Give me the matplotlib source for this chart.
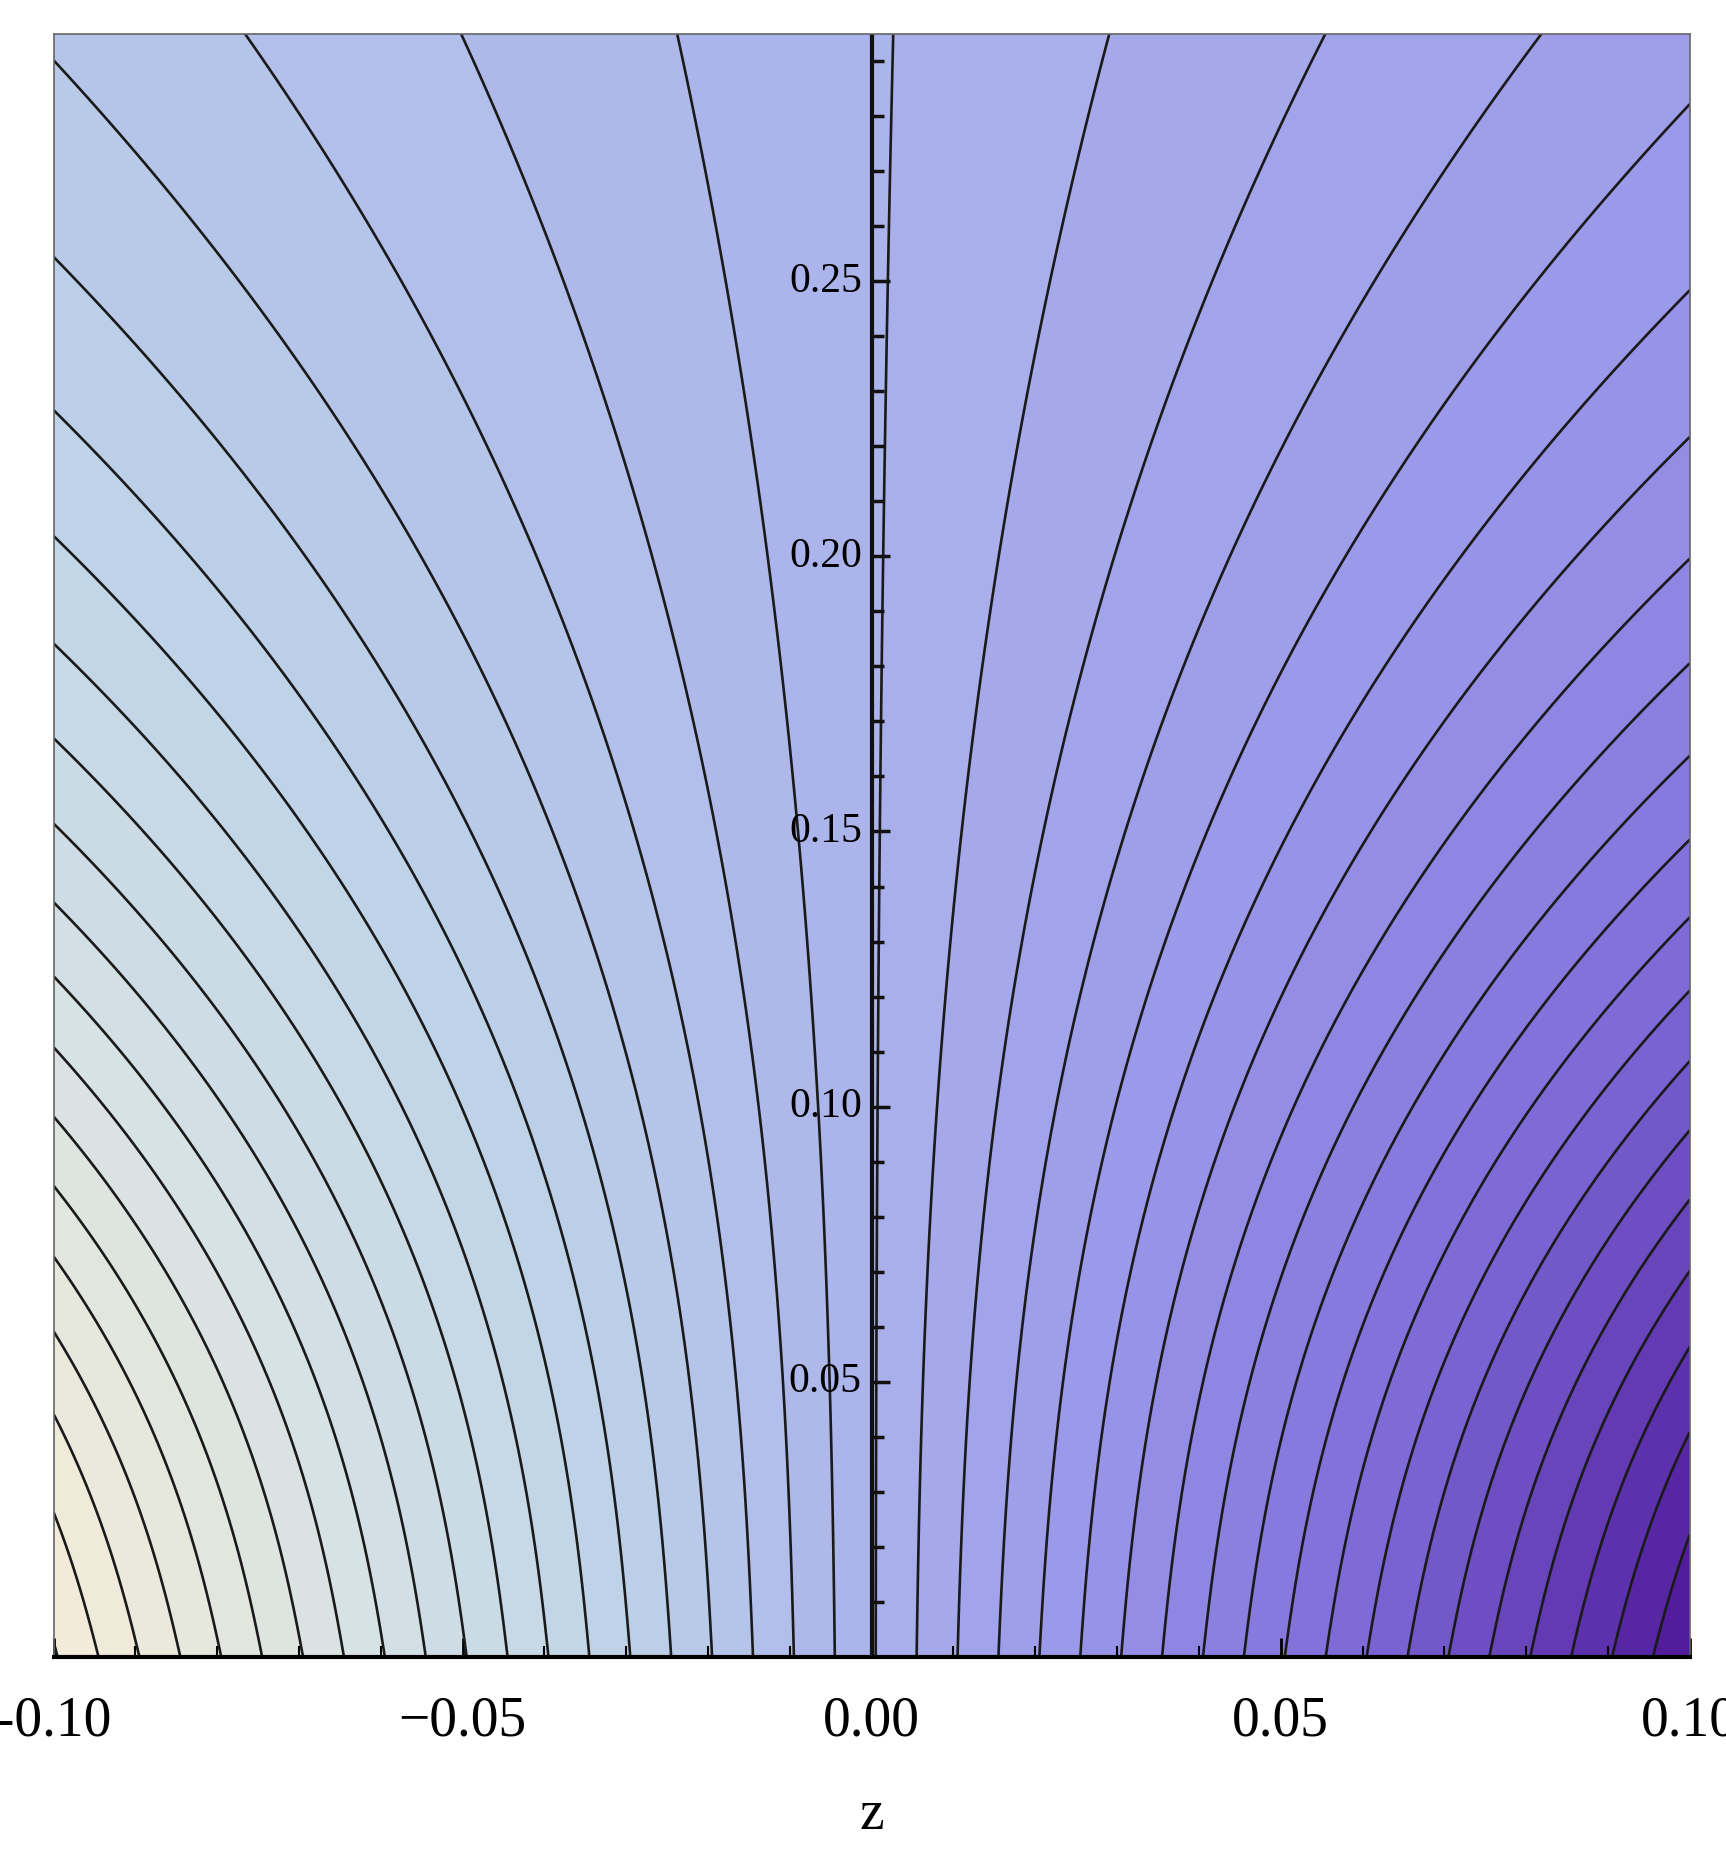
import numpy as np
import matplotlib
matplotlib.use("Agg")
import matplotlib.pyplot as plt
from matplotlib.colors import LinearSegmentedColormap

# data / model parameters
z_range = [-0.1, 0.1]
y_range = [0.0, 0.295]
g_lin = 1.8            # g(y) = 1 + 1.8y + 72 y^2.42 ; f = z / g(y)
g_coef = 72.0
g_power = 2.42
level_start = 0.0005
level_step = 0.005
x_ticks = [-0.10, -0.05, 0.00, 0.05, 0.10]
x_tick_labels = ["-0.10", "\u22120.05", "0.00", "0.05", "0.10"]
y_ticks = [0.05, 0.10, 0.15, 0.20, 0.25]
y_tick_labels = ["0.05", "0.10", "0.15", "0.20", "0.25"]
cmap_nodes = [-0.1, -0.06, -0.03, 0.0, 0.03, 0.06, 0.1]
cmap_colors = [(245, 236, 216), (212, 225, 228), (190, 210, 232), (170, 178, 235),
               (150, 145, 232), (125, 105, 215), (80, 25, 155)]

z = np.linspace(*z_range, 600)
y = np.linspace(*y_range, 600)
Z, Y = np.meshgrid(z, y)
G = 1.0 + g_lin * Y + g_coef * Y**g_power
F = Z / G

levels = level_start + level_step * np.arange(-25, 26)
levels = levels[(levels > F.min() - level_step) & (levels < F.max() + level_step)]

lo, hi = cmap_nodes[0], cmap_nodes[-1]
cmap = LinearSegmentedColormap.from_list(
    "m", [((v - lo) / (hi - lo), tuple(c / 255 for c in col)) for v, col in zip(cmap_nodes, cmap_colors)])

fig = plt.figure(figsize=(17.26, 18.7), dpi=100)
ax = fig.add_axes([0.031, 0.114, 0.948, 0.868])
ax.contourf(Z, Y, F, levels=levels, cmap=cmap, vmin=lo, vmax=hi)
ax.contour(Z, Y, F, levels=levels, colors="#1a1a1a", linewidths=1.9, linestyles="solid")
ax.set_xlim(*z_range)
ax.set_ylim(*y_range)

for s in ["top", "left", "right"]:
    ax.spines[s].set_color("#666666")
    ax.spines[s].set_linewidth(1.2)
ax.spines["bottom"].set_linewidth(3)

serif = ["Liberation Serif", "DejaVu Serif"]
ax.set_xticks(x_ticks)
ax.set_xticklabels(x_tick_labels, fontsize=40, family=serif)
ax.set_xticks(np.arange(-0.1, 0.1001, 0.01), minor=True)
ax.tick_params(axis="x", which="major", length=14, width=2, direction="in", pad=28)
ax.tick_params(axis="x", which="minor", length=8, width=1.5, direction="in")
ax.set_xlabel("z", fontsize=40, family=serif, labelpad=30)

ax.set_yticks([])
ax.axvline(0, color="#111111", lw=3)
for t in np.arange(0.01, 0.295, 0.01):
    major = abs(round(t * 100) % 5) == 0
    ax.plot([0, 0.0023 if major else 0.0015], [t, t], color="#111111", lw=2.5, solid_capstyle="butt")
for t, lab in zip(y_ticks, y_tick_labels):
    ax.text(-0.0012, t, lab, ha="right", va="center", fontsize=30, family=serif)

fig.savefig("out.png", dpi=100)
